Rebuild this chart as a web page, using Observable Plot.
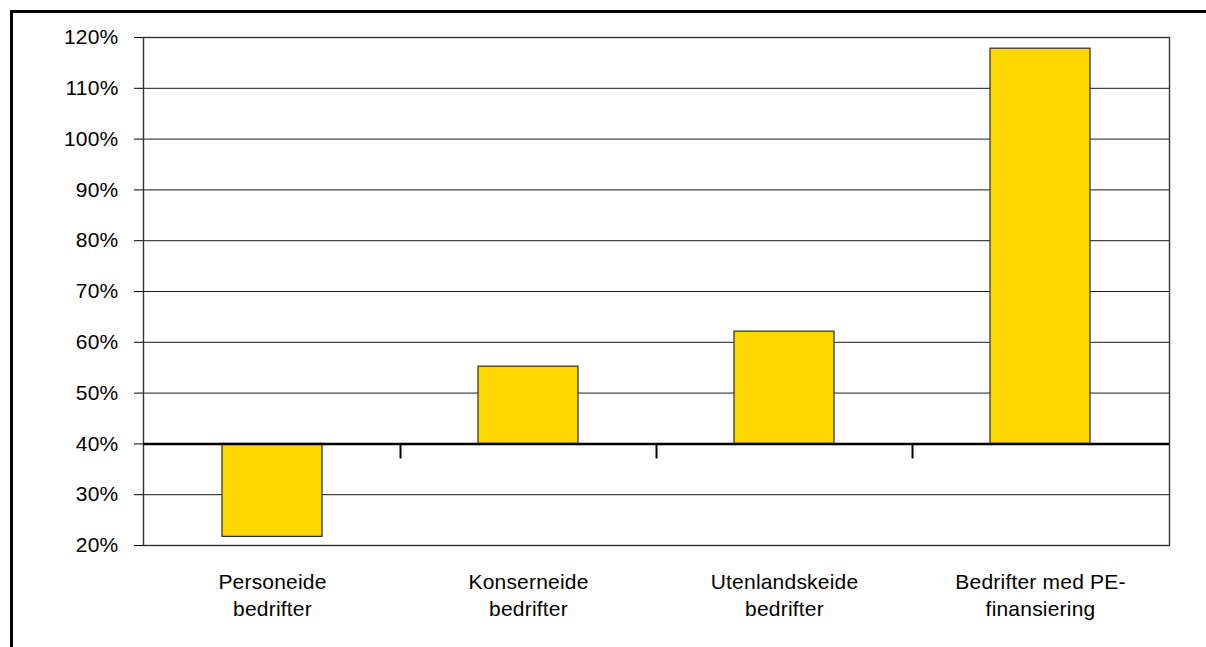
<!DOCTYPE html>
<html>
<head>
<meta charset="utf-8">
<script src="https://cdn.jsdelivr.net/npm/d3@7"></script>
<script src="https://cdn.jsdelivr.net/npm/@observablehq/plot@0.6"></script>
<style>
  html, body { margin: 0; padding: 0; background: #fff; }
  #wrap { position: relative; width: 1206px; height: 647px; overflow: hidden; }
  #frame { position: absolute; left: 10px; top: 10px; width: 1300px; height: 800px;
           border: 3px solid #000; pointer-events: none; }
  #wrap svg { position: absolute; left: 0; top: 0; }
</style>
</head>
<body>
<div id="wrap"><div id="frame"></div></div>
<script>
// Ownership groups (labels break onto two lines)
const categories = [
  "Personeide\nbedrifter",
  "Konserneide\nbedrifter",
  "Utenlandskeide\nbedrifter",
  "Bedrifter med PE-\nfinansiering"
];
// Value per group, in percent
const shares = [21.7, 55.2, 62.1, 117.8];
// Value axis ticks, in percent
const yTicks = [20, 30, 40, 50, 60, 70, 80, 90, 100, 110, 120];
// Level where the category axis crosses the value axis
const baseline = 40;

const rows = categories.map((c, i) => ({category: c, value: shares[i]}));

// Shift the category ticks from band centres to the boundaries between bands
function toBoundaries(index, scales, values, dimensions, context, next) {
  const X = values.x;
  const step = X[index[1]] - X[index[0]];
  const shifted = Float64Array.from(X, v => v - step / 2);
  return next(index.slice(1), scales, {...values, x: shifted}, dimensions, context);
}

const chart = Plot.plot({
  width: 1206,
  height: 647,
  marginLeft: 143,
  marginRight: 37,
  marginTop: 37,
  marginBottom: 102,
  style: {
    fontFamily: "'Liberation Sans', Arial, Helvetica, sans-serif",
    fontSize: "21px",
    color: "#000",
    background: "transparent",
    letterSpacing: "0.2px"
  },
  x: {domain: categories, paddingInner: 0.61, paddingOuter: 0.305},
  y: {domain: [20, 120]},
  marks: [
    Plot.gridY(yTicks, {stroke: "#1a1a1a", strokeOpacity: 1, strokeWidth: 1}),
    Plot.frame({stroke: "#333", strokeWidth: 1.4}),
    Plot.axisY(yTicks, {
      tickSize: 9,
      tickPadding: 16,
      tickFormat: d => d + "%",
      stroke: "#000",
      fontSize: 21,
      label: null
    }),
    Plot.axisX({
      tickSize: 0,
      tickPadding: 24,
      lineHeight: 1.3,
      fontSize: 21,
      label: null
    }),
    Plot.barY(rows, {
      x: "category",
      y1: baseline,
      y2: "value",
      fill: "#FFD700",
      stroke: "#2a2a2a",
      strokeWidth: 1.2
    }),
    Plot.ruleY([baseline], {stroke: "#000", strokeWidth: 2.5}),
    Plot.ruleX(categories, {
      x: d => d,
      y1: baseline,
      y2: baseline,
      insetBottom: -15,
      stroke: "#000",
      strokeWidth: 2,
      render: toBoundaries
    })
  ]
});

document.getElementById("wrap").insertBefore(chart, document.getElementById("frame"));
</script>
</body>
</html>
